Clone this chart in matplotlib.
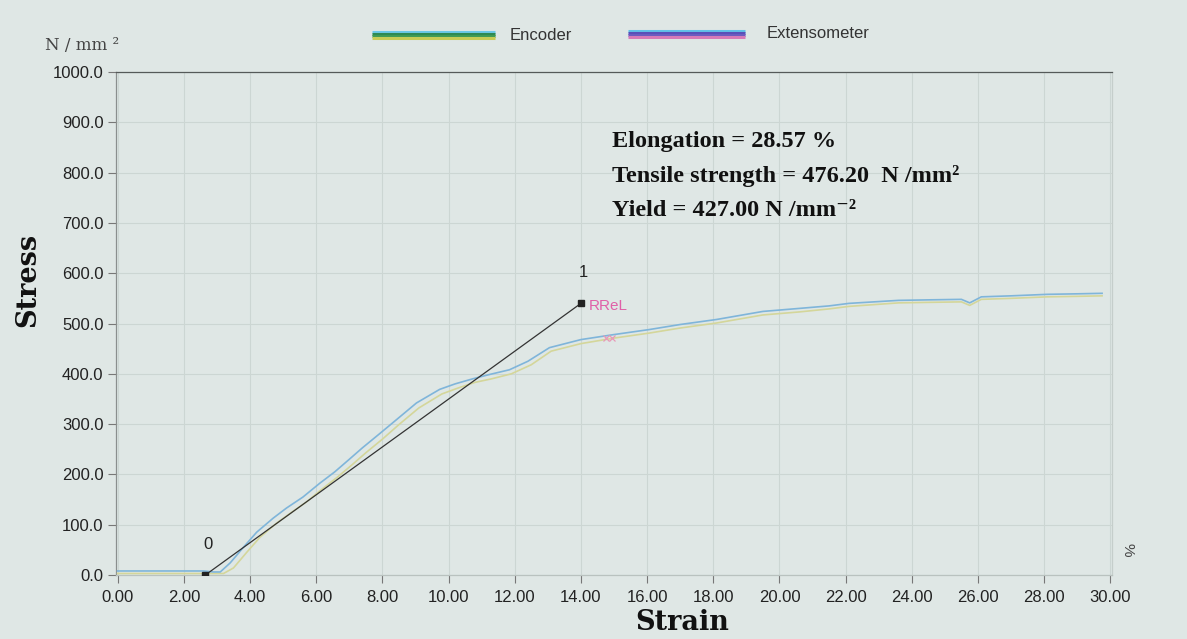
import matplotlib
matplotlib.use("Agg")
import matplotlib.pyplot as plt
from matplotlib.lines import Line2D

# ---- data ----
ext_strain = [0, 2.6, 2.9, 3.1, 3.4, 3.8, 4.2, 4.7, 5.1, 5.6, 6.1, 6.56, 7.0, 7.4, 7.9, 8.43,
              9.03, 9.73, 10.2, 10.73, 11.2, 11.84, 12.4, 13.05, 14.0, 15.0, 16.07, 17.0,
              18.1, 19.5, 20.6, 21.5, 22.1, 23.6, 24.5, 25.5, 25.75, 26.1, 27.0, 28.1, 29.0, 29.75]
ext_stress = [8, 8, 6, 6, 24, 55, 85, 113, 133, 155, 182, 205, 230, 253, 280, 309,
              342, 369, 380, 390, 398, 408, 425, 452, 468, 478, 488, 498,
              508, 524, 530, 535, 540, 546, 547, 548, 541, 553, 555, 558, 559, 560]
enc_strain = [0, 3.2, 3.5, 3.9, 4.3, 4.8, 5.2, 5.7, 6.2, 6.65, 7.1, 7.5, 8.0, 8.5,
              9.1, 9.8, 10.3, 10.8, 11.3, 11.9, 12.5, 13.1, 14.0, 15.0, 16.07, 17.0,
              18.1, 19.5, 20.6, 21.5, 22.1, 23.6, 24.5, 25.5, 25.75, 26.1, 27.0, 28.1, 29.0, 29.75]
enc_stress = [3, 3, 14, 45, 75, 103, 122, 145, 172, 195, 220, 243, 270, 299,
              332, 360, 372, 383, 390, 400, 418, 445, 460, 471, 481, 491,
              501, 517, 523, 529, 534, 541, 542, 543, 536, 548, 550, 553, 554, 555]
mod_strain = [2.65, 14.0]
mod_stress = [0, 540]
mod_labels = ["0", "1"]
rel_strain = [14.75, 14.95]
rel_stress = [472, 472]

x_ticks = [0, 2, 4, 6, 8, 10, 12, 14, 16, 18, 20, 22, 24, 26, 28, 30]
y_ticks = [0, 100, 200, 300, 400, 500, 600, 700, 800, 900, 1000]

W, H = 1187, 639
bg = "#dfe7e5"
fig = plt.figure(figsize=(W / 100, H / 100), dpi=100, facecolor=bg)

def fx(px):
    return px / W

def fy(py):
    return 1 - py / H

ax = fig.add_axes([fx(116), fy(575), fx(1112) - fx(116), fy(72) - fy(575)])
ax.set_facecolor(bg)
ax.set_xlim(-0.05, 30.05)
ax.set_ylim(0, 1000)

ax.set_xticks(x_ticks)
ax.set_xticklabels([f"{v:.2f}" for v in x_ticks])
ax.set_yticks(y_ticks)
ax.set_yticklabels([f"{v:.1f}" for v in y_ticks])
ax.tick_params(axis="both", direction="out", length=6, width=0.8, color="#777777",
               labelsize=12, labelcolor="#222222")
ax.tick_params(axis="x", pad=5)
ax.tick_params(axis="y", pad=3)
for lab in ax.get_xticklabels() + ax.get_yticklabels():
    lab.set_fontfamily("Liberation Sans")

ax.grid(True, color="#ccd6d3", linewidth=0.8)
ax.set_axisbelow(True)
for side in ["left", "top", "right", "bottom"]:
    ax.spines[side].set_color("#8a8f8e")
    ax.spines[side].set_linewidth(0.9)
ax.spines["top"].set_color("#555a59")
ax.spines["right"].set_color("#c5cecb")
ax.spines["bottom"].set_color("#b9c2bf")

ax.plot(enc_strain, enc_stress, color="#d4d69a", linewidth=1.2, zorder=3)
ax.plot(ext_strain, ext_stress, color="#7fb5da", linewidth=1.2, zorder=4)
ax.plot(mod_strain, mod_stress, color="#333333", linewidth=0.9, zorder=5)
ax.plot(mod_strain, mod_stress, linestyle="none", marker="s", markersize=4,
        color="#222222", zorder=6)
for sx, sy, lab in zip(mod_strain, mod_stress, mod_labels):
    ax.annotate(lab, (sx, sy), xytext=(2, 22), textcoords="offset points",
                ha="center", va="center", fontsize=12, color="#222222",
                fontfamily="Liberation Sans")
ax.plot(rel_strain, rel_stress, linestyle="none", marker="x", markersize=5,
        color="#e899b8", markeredgewidth=0.9, zorder=6)
ax.annotate("RReL", (mod_strain[1], mod_stress[1]), xytext=(6, -2),
            textcoords="offset points", ha="left", va="center", fontsize=11,
            color="#e060a8", fontfamily="Liberation Sans")

# legend at top
def band(x0, x1, y, colors):
    for i, c in enumerate(colors):
        fig.add_artist(Line2D([fx(x0), fx(x1)], [fy(y - 3 + i * 2), fy(y - 3 + i * 2)],
                              color=c, linewidth=2.2, solid_capstyle="butt"))

band(372, 495, 35, ["#6cc8e8", "#2f8a52", "#3e9a55", "#c8cc55"])
fig.text(fx(510), fy(35), "Encoder", fontsize=12, ha="left", va="center",
         color="#333333", fontfamily="Liberation Sans")
band(628, 745, 34, ["#62c0e8", "#5a4fb8", "#6a5bc0", "#d77ab8"])
fig.text(fx(767), fy(33), "Extensometer", fontsize=12, ha="left", va="center",
         color="#333333", fontfamily="Liberation Sans")

fig.text(fx(45), fy(45), "N / mm ²", fontsize=12, ha="left", va="center",
         color="#444444", fontfamily="DejaVu Serif", fontweight="light")
fig.text(fx(1128), fy(550), "%", fontsize=11, ha="center", va="center",
         color="#444444", rotation=-90, fontfamily="Liberation Sans")

# axis titles
fig.text(fx(28), fy(280), "Stress", fontsize=19.5, fontweight="bold", rotation=90,
         ha="center", va="center", color="#111111", fontfamily="DejaVu Serif")
fig.text(fx(682), fy(622), "Strain", fontsize=19.5, fontweight="bold",
         ha="center", va="center", color="#111111", fontfamily="DejaVu Serif")

# results box
res = ["Elongation = 28.57 %",
       "Tensile strength = 476.20  N /mm²",
       "Yield = 427.00 N /mm⁻²"]
for i, t in enumerate(res):
    fig.text(fx(612), fy(142 + i * 34), t, fontsize=17.5, fontweight="bold",
             ha="left", va="center", color="#111111",
             family=["Liberation Serif", "DejaVu Serif"])

fig.savefig("out.png", dpi=100, facecolor=bg)
